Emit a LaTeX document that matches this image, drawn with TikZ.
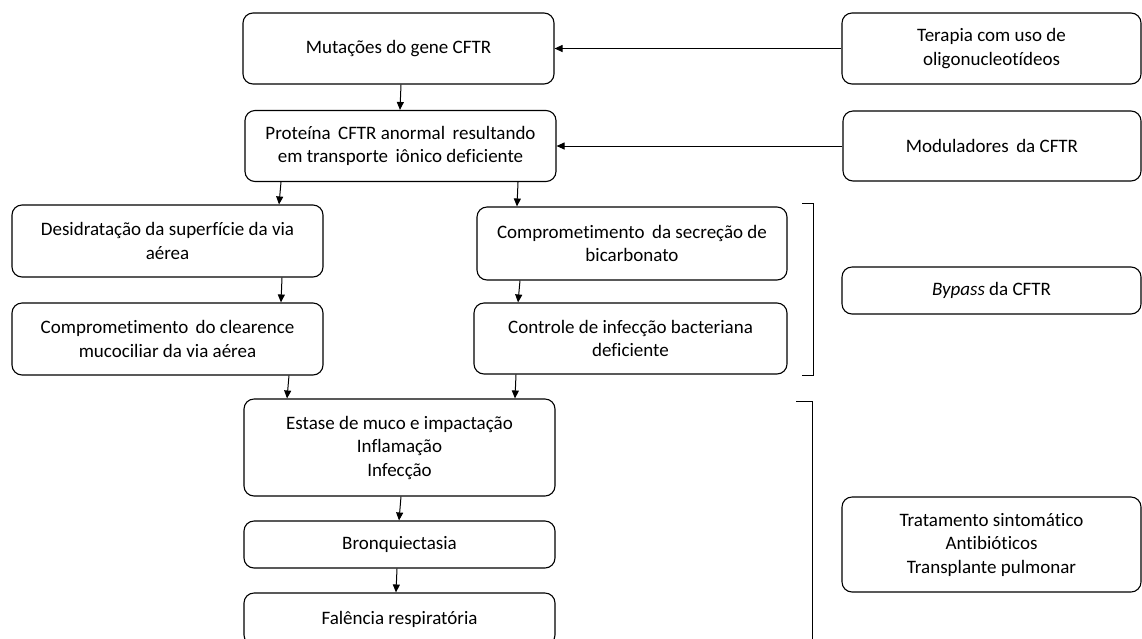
\documentclass[tikz,border=0pt]{standalone}
\usepackage{fontspec}
\setmainfont{Carlito}[Ligatures=NoCommon]
\usetikzlibrary{arrows.meta,positioning}
\tikzset{
  box/.style={draw, line width=1.1pt, rounded corners=10pt, align=center, inner sep=2pt,
     font=\fontsize{19}{23.5}\selectfont},
  arr/.style={line width=1pt, -{Triangle[length=8pt,width=7pt]}},
  brk/.style={line width=1pt}
}
\begin{document}
\begin{tikzpicture}[x=1pt,y=-1pt]
\clip (0,0) rectangle (1142,638);
\fill[white] (0,0) rectangle (1142,638);
% left chain
\node[box, minimum width=311pt, minimum height=71pt] (mut) at (398.5,48.5) {Mutações do gene CFTR};
\node[box, minimum width=311pt, minimum height=71pt] (prot) at (400.5,146) {Proteína\, CFTR anormal\, resultando\\em transporte\, iônico deficiente};
\node[box, minimum width=311pt, minimum height=72pt] (des) at (167.5,241) {Desidratação da superfície da via\\aérea};
\node[box, minimum width=311pt, minimum height=72pt] (cle) at (167.5,339) {Comprometimento\, do clearence\\mucociliar da via aérea};
\node[box, minimum width=310pt, minimum height=73pt] (sec) at (632,243.5) {Comprometimento\, da secreção de\\bicarbonato};
\node[box, minimum width=313pt, minimum height=71pt] (con) at (630.5,338.5) {Controle de infecção bacteriana\\deficiente};
\node[box, minimum width=311pt, minimum height=97pt] (est) at (399.5,447.5) {Estase de muco e impactação\\Inflamação\\Infecção};
\node[box, minimum width=311pt, minimum height=47pt] (bro) at (399.5,544.5) {Bronquiectasia};
\node[box, minimum width=311pt, minimum height=52pt] (fal) at (399.5,619) {Falência respiratória};
% right column
\node[box, minimum width=299pt, minimum height=71pt] (ter) at (991.5,48.5) {Terapia com uso de\\oligonucleotídeos};
\node[box, minimum width=298pt, minimum height=70pt] (mod) at (992,146) {Moduladores\, da CFTR};
\node[box, minimum width=299pt, minimum height=47pt] (byp) at (991.5,290.5) {\textit{Bypass} da CFTR};
\node[box, minimum width=299pt, minimum height=95pt] (tra) at (991.5,544.5) {Tratamento sintomático\\Antibióticos\\Transplante pulmonar};
% arrows
\draw[arr] ([xshift=2.5pt]mut.south) -- ([xshift=-0.5pt]prot.north);
\draw[arr] (ter.west) -- (mut.east);
\draw[arr] (mod.west) -- (prot.east);
\draw[arr] ([xshift=-119.5pt]prot.south) -- ([xshift=111.5pt]des.north);
\draw[arr] ([xshift=117.5pt]prot.south) -- ([xshift=-115pt]sec.north);
\draw[arr] ([xshift=114.5pt]des.south) -- ([xshift=113.5pt]cle.north);
\draw[arr] ([xshift=-112pt]sec.south) -- ([xshift=-112.5pt]con.north);
\draw[arr] ([xshift=121.5pt]cle.south) -- ([xshift=-112.5pt]est.north);
\draw[arr] ([xshift=-114.5pt]con.south) -- ([xshift=115.5pt]est.north);
\draw[arr] ([xshift=1.5pt]est.south) -- ([xshift=-0.5pt]bro.north);
\draw[arr] ([xshift=-2.5pt]bro.south) -- ([xshift=-3.5pt]fal.north);
% brackets
\coordinate (b1t) at (802,203);
\coordinate (b1b) at (802,375);
\draw[brk] (b1t) -- ++(11,0) |- (b1b);
\coordinate (b2t) at (796,401);
\coordinate (b2b) at (812,645);
\draw[brk] (b2t) -| (b2b);
\end{tikzpicture}
\end{document}
